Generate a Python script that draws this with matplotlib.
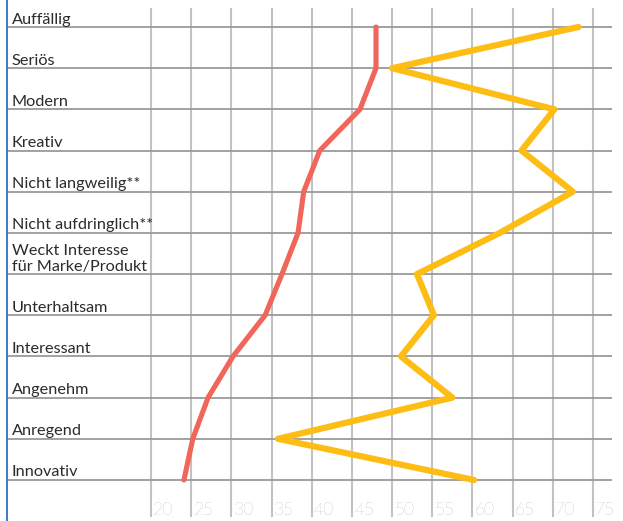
import matplotlib
matplotlib.use("Agg")
import matplotlib.pyplot as plt
from matplotlib.lines import Line2D

# Data
categories = [
    "Auffällig", "Seriös", "Modern", "Kreativ", "Nicht langweilig**",
    "Nicht aufdringlich**", "Weckt Interesse\nfür Marke/Produkt",
    "Unterhaltsam", "Interessant", "Angenehm", "Anregend", "Innovativ",
]
red_values = [48, 48, 46, 41, 39, 38.3, 36.3, 34.2, 30.2, 27.1, 25.2, 24.1]
yellow_values = [73.2, 50, 70.2, 66.1, 72.5, 63.4, 53.1, 55.2, 51.1, 57.5, 35.8, 60.2]
x_ticks = [20, 25, 30, 35, 40, 45, 50, 55, 60, 65, 70, 75]

# Layout (pixels)
W, H, DPI = 623, 521, 100
X20_PX, PX_PER_UNIT = 151, 8.036
ROW0_PX, ROW_PX = 27, 41.18


def xd(px):
    return 20 + (px - X20_PX) / PX_PER_UNIT


def yd(px):
    return (px - ROW0_PX) / ROW_PX


fig = plt.figure(figsize=(W / DPI, H / DPI), dpi=DPI)
ax = fig.add_axes([0, 0, 1, 1])
ax.set_xlim(xd(0), xd(W))
ax.set_ylim(yd(H), yd(0))
ax.axis("off")

rows = list(range(len(categories)))

# Grid
ax.vlines(x_ticks, yd(8), yd(517), color="#c2c2c2", lw=1.5, zorder=1)
ax.hlines(rows, xd(7), xd(612), color="#9a9a9a", lw=1.3, zorder=1)

# Series
ax.plot(red_values, rows, color="#f0665a", lw=3.7,
        solid_capstyle="round", solid_joinstyle="round", zorder=3)
ax.plot(yellow_values, rows, color="#fdbd14", lw=4.5,
        solid_capstyle="round", solid_joinstyle="round", zorder=3)

# Category labels
for r, label in zip(rows, categories):
    ax.text(xd(12), r - 3.5 / ROW_PX, label, ha="left", va="baseline",
            fontsize=11.7, family=["Lato", "DejaVu Sans"], color="#2b2b2b",
            linespacing=1.12)

# Scale labels
for v in x_ticks:
    ax.text(v + 2.2 / PX_PER_UNIT, yd(515), str(v), ha="left", va="baseline",
            fontsize=12.5, family=["Lato", "DejaVu Sans"], fontweight="light",
            color="#939393")

# Left border
fig.add_artist(Line2D([6.5 / W, 6.5 / W], [0, 1], transform=fig.transFigure,
                      color="#2f6fbf", lw=1.3))

fig.savefig("out.png", dpi=DPI)
